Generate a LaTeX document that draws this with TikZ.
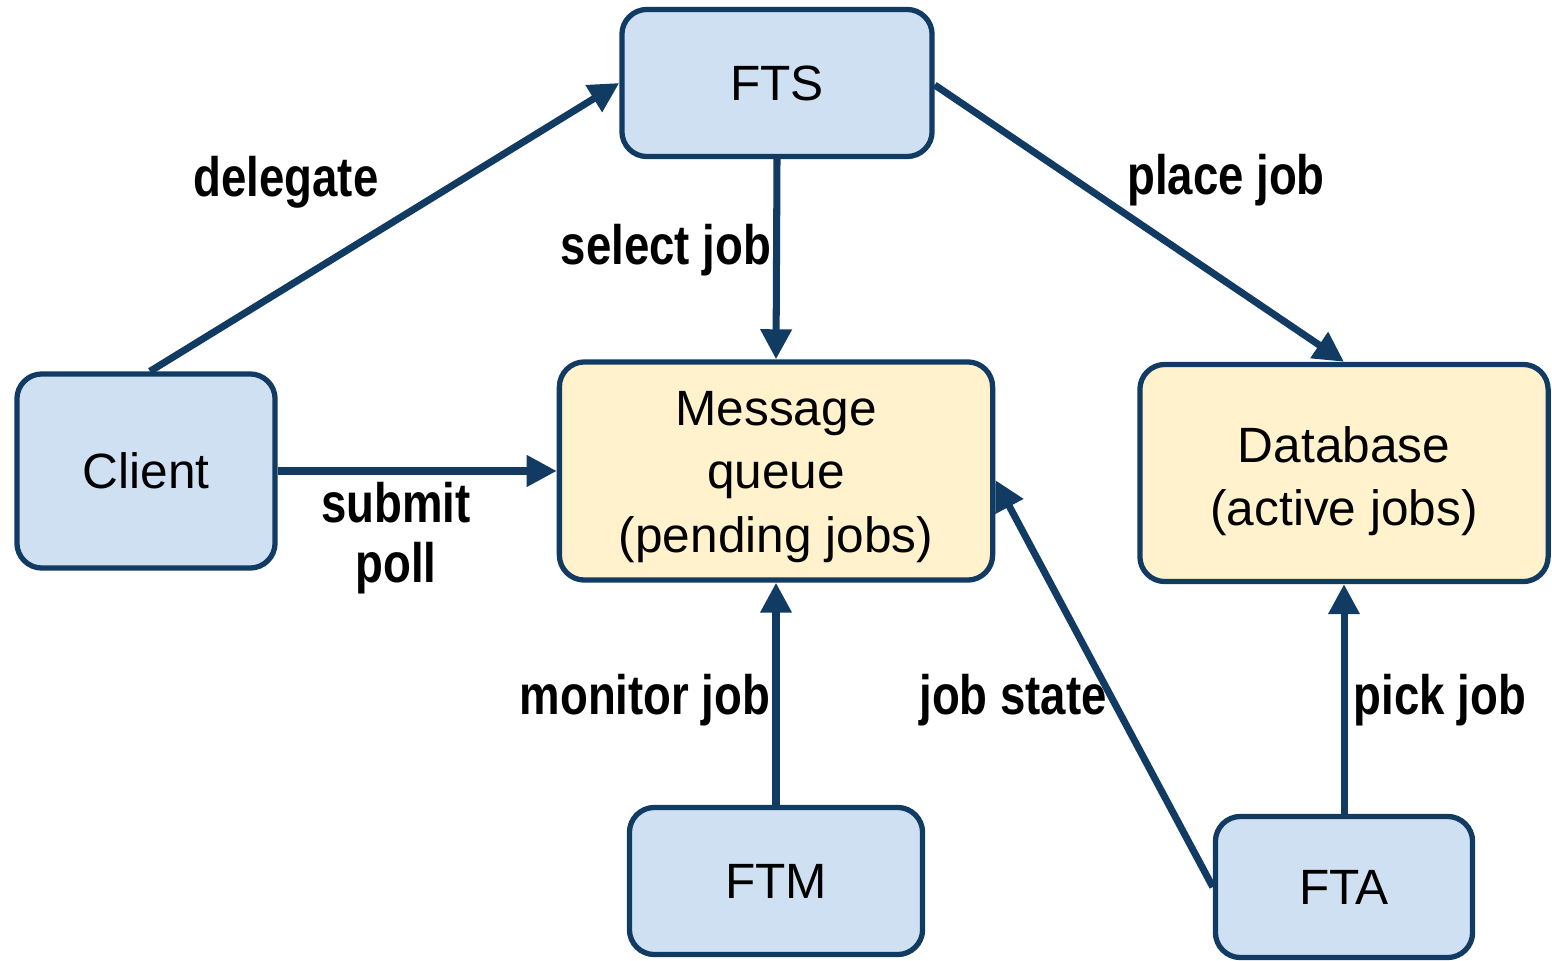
\documentclass[tikz,border=0pt]{standalone}
\usepackage{fontspec}
\setmainfont{Liberation Sans}
\newfontfamily\lblfont{Liberation Sans}[FakeStretch=0.82]
\usetikzlibrary{arrows.meta}
\definecolor{ftsBlue}{HTML}{CFE0F2}
\definecolor{ftsCream}{HTML}{FFF2CC}
\definecolor{ftsNavy}{HTML}{123B63}
\begin{document}
\begin{tikzpicture}[
                x=0.01cm, y=-0.01cm,
                ftsBox/.style={draw=ftsNavy,line width=1.5pt,rounded corners=0.25cm,
                               fill=ftsBlue,align=center,inner sep=0pt,
                               font=\fontsize{14.1}{18}\selectfont},
                ftsStore/.style={ftsBox,fill=ftsCream},
                ftsLink/.style={draw=ftsNavy,line width=2pt,
                                -{Triangle[length=0.3cm,width=0.3cm]}},
                ftsLabel/.style={font=\fontsize{15.8}{20}\lblfont\bfseries,inner sep=0pt}]
                \useasboundingbox (0,0) rectangle (1552,961);
                % boxes
                \node[ftsBox,minimum width=3.1cm,minimum height=1.47cm] (fts) at (777,83) {FTS};
                \node[ftsBox,minimum width=2.58cm,minimum height=1.94cm] (client) at (146,471) {Client};
                \node[ftsStore,minimum width=4.33cm,minimum height=2.18cm] (queue) at (776,471)
                    {\rule{0pt}{0.46cm}Message\\queue\\(pending jobs)};
                \node[ftsStore,minimum width=4.08cm,minimum height=2.17cm] (db) at (1344,473)
                    {\rule{0pt}{0.52cm}Database\\(active jobs)};
                \node[ftsBox,minimum width=2.93cm,minimum height=1.47cm] (ftm) at (776,881) {FTM};
                \node[ftsBox,minimum width=2.57cm,minimum height=1.41cm] (fta) at (1344,887) {FTA};
                % links
                \draw[ftsLink] ([xshift=0.04cm]client.north) -- (fts.west);
                \draw[ftsLink] (fts.south) -- (queue.north);
                \draw[ftsLink] ([yshift=-0.02cm]fts.east) -- (db.north);
                \draw[ftsLink] (client.east) -- (queue.west);
                \draw[ftsLink] (ftm.north) -- (queue.south);
                \draw[ftsLink] (fta.west) -- ([yshift=-0.09cm]queue.east);
                \draw[ftsLink] (fta.north) -- (db.south);
                % labels
                \node[ftsLabel] (lDelegate) at (286,182) {delegate};
                \node[ftsLabel] (lSelect) at (666,250) {select job};
                \node[ftsLabel] (lPlace) at (1226,180) {place job};
                \node[ftsLabel] (lSubmit) at (396,503) {submit};
                \node[ftsLabel] (lPoll) at (396,568) {poll};
                \node[ftsLabel] (lMonitor) at (645,700) {monitor job};
                \node[ftsLabel] (lState) at (1013,700) {job state};
                \node[ftsLabel] (lPick) at (1440,700) {pick job};
            \end{tikzpicture}
\end{document}
